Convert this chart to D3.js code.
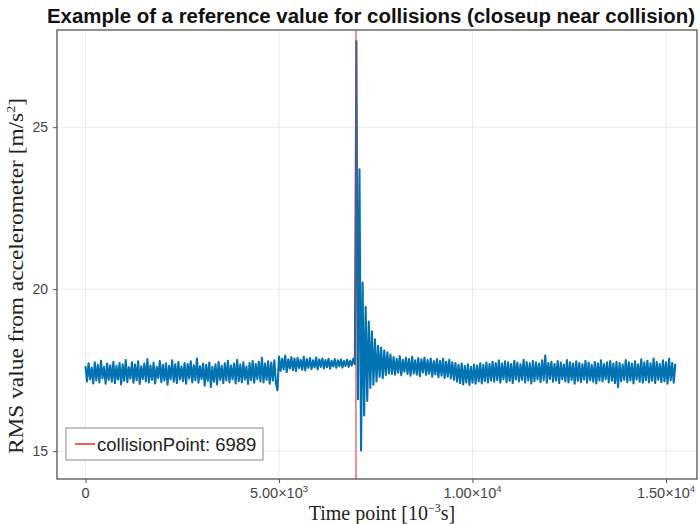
<!DOCTYPE html>
<html><head><meta charset="utf-8">
<script src="https://cdn.jsdelivr.net/npm/d3@7"></script>
<style>body{margin:0;background:#fff}svg{display:block}</style>
</head><body>
<script>
// ---- data ----
const sampleStep = 40; // time points between samples
// t = 0 .. 4960
const rmsBefore = [
17.62,17.15,17.71,17.22,17.58,17.09,17.74,17.18,17.66,17.12,
17.79,17.25,17.60,17.08,17.70,17.20,17.65,17.14,17.76,17.10,
17.63,17.21,17.72,17.06,17.68,17.17,17.81,17.13,17.59,17.24,
17.74,17.11,17.67,17.19,17.77,17.07,17.62,17.23,17.70,17.15,
17.84,17.12,17.64,17.20,17.73,17.09,17.60,17.26,17.78,17.13,
17.66,17.18,17.71,17.05,17.63,17.22,17.80,17.14,17.68,17.10,
17.75,17.21,17.61,17.16,17.72,17.08,17.69,17.24,17.77,17.12,
17.65,17.19,17.86,17.11,17.62,17.23,17.70,17.02,17.66,17.17,
17.73,16.98,17.60,17.14,17.68,17.06,17.75,17.20,17.63,17.10,
17.71,17.18,17.79,17.12,17.64,17.22,17.70,17.09,17.82,17.16,
17.67,17.13,17.74,17.21,17.61,17.07,17.72,17.19,17.78,17.11,
17.69,17.23,17.76,17.15,17.88,17.12,17.70,17.20,17.77,17.08,
17.73,17.18,17.80,17.10,16.88];
// t = 5000 .. 6960
const rmsRaised = [
17.92,17.48,17.85,17.52,17.95,17.44,17.83,17.55,17.90,17.50,
17.86,17.47,17.88,17.56,17.82,17.51,17.91,17.49,17.84,17.57,
17.87,17.53,17.80,17.58,17.89,17.52,17.83,17.60,17.86,17.55,
17.81,17.59,17.85,17.54,17.79,17.61,17.84,17.57,17.80,17.62,
17.83,17.58,17.78,17.63,17.82,17.60,17.79,17.64,17.85,17.68];
// t = 7000 .. 7920 (collision)
const rmsCollision = [
27.65,16.60,23.70,15.02,20.20,16.10,19.45,16.55,19.00,16.95,
18.70,17.05,18.45,17.15,18.25,17.30,18.20,17.25,18.10,17.35,
18.05,17.40,17.98,17.38];
// t = 7960 .. 9480
const rmsAfter = [
17.90,17.36,17.85,17.42,17.93,17.34,17.82,17.45,17.88,17.38,
17.84,17.33,17.91,17.40,17.80,17.36,17.87,17.31,17.83,17.43,
17.89,17.35,17.81,17.39,17.86,17.30,17.78,17.37,17.84,17.28,
17.79,17.33,17.85,17.26,17.76,17.30,17.82,17.24,17.74];
// t = 9520 .. 10480
const rmsDip = [
17.20,17.72,17.14,17.66,17.10,17.70,17.06,17.63,17.12,17.68,
17.04,17.60,17.11,17.67,17.08,17.64,17.15,17.71,17.09,17.66,
17.16,17.73,17.12,17.69,17.18];
// t = 10520 .. 15240
const rmsTail = [
17.76,17.14,17.72,17.19,17.80,17.11,17.70,17.22,17.77,17.13,
17.74,17.17,17.69,17.10,17.79,17.21,17.73,17.15,17.68,17.20,
17.82,17.12,17.75,17.18,17.71,17.09,17.78,17.16,17.74,17.21,
17.70,17.13,17.80,17.19,17.95,17.11,17.72,17.23,17.76,17.14,
17.69,17.18,17.78,17.10,17.73,17.22,17.67,17.15,17.81,17.12,
17.74,17.20,17.70,17.08,17.77,17.17,17.72,17.13,17.68,17.21,
17.79,17.11,17.73,17.19,17.66,17.14,17.75,17.09,17.71,17.18,
17.80,17.15,17.69,17.22,17.74,17.12,17.78,17.17,17.70,17.10,
17.76,16.97,17.72,17.16,17.67,17.20,17.81,17.13,17.74,17.18,
17.70,17.09,17.77,17.21,17.68,17.14,17.83,17.11,17.73,17.19,
17.79,17.12,17.71,17.17,17.86,17.10,17.75,17.20,17.69,17.13,
17.80,17.16,17.74,17.08,17.85,17.19,17.72,17.11,17.70];
const collisionPoint = 6989;
const xTicks = [0, 5000, 10000, 15000];
const xTickMant = ["0", "5.00", "1.00", "1.50"];
const xTickExp = [null, "3", "4", "4"];
const yTicks = [15, 20, 25];

const rms = [].concat(rmsBefore, rmsRaised, rmsCollision, rmsAfter, rmsDip, rmsTail);
const series = rms.map((v, i) => ({t: i * sampleStep, v}));

// ---- layout ----
const W = 700, H = 524;
const L = 57, R = 697, T = 30, B = 479;
const svg = d3.select("body").append("svg").attr("width", W).attr("height", H)
  .style("font-family", "'Liberation Sans', Arial, sans-serif");

const x = d3.scaleLinear().domain([-736, 15801]).range([L, R]);
const y = d3.scaleLinear().domain([14.138, 28.0]).range([B, T]);

// grid
const g = svg.append("g");
g.selectAll(".gx").data(xTicks).join("line")
  .attr("x1", d => x(d)).attr("x2", d => x(d)).attr("y1", T).attr("y2", B)
  .attr("stroke", "#ebebeb").attr("stroke-width", 1);
g.selectAll(".gy").data(yTicks).join("line")
  .attr("y1", d => y(d)).attr("y2", d => y(d)).attr("x1", L).attr("x2", R)
  .attr("stroke", "#ebebeb").attr("stroke-width", 1);

// clip
svg.append("clipPath").attr("id", "clip").append("rect")
  .attr("x", L).attr("y", T).attr("width", R - L).attr("height", B - T);

const plot = svg.append("g").attr("clip-path", "url(#clip)");
const line = d3.line().x(d => x(d.t)).y(d => y(d.v));
plot.append("path").datum(series).attr("d", line)
  .attr("fill", "none").attr("stroke", "#0072B2").attr("stroke-width", 2.1)
  .attr("stroke-linejoin", "round");
plot.append("line")
  .attr("x1", x(collisionPoint)).attr("x2", x(collisionPoint)).attr("y1", T).attr("y2", B)
  .attr("stroke", "#e8292b").attr("stroke-width", 1.2).attr("opacity", 0.85);

// axes
const xAxis = svg.append("g").attr("transform", `translate(0,${B})`)
  .call(d3.axisBottom(x).tickValues(xTicks).tickSize(4).tickFormat(""));
const yAxis = svg.append("g").attr("transform", `translate(${L},0)`)
  .call(d3.axisLeft(y).tickValues(yTicks).tickSize(4).tickFormat(""));
[xAxis, yAxis].forEach(a => {
  a.select(".domain").remove();
  a.selectAll(".tick line").attr("stroke", "#555");
});

// x tick labels
xTicks.forEach((d, i) => {
  const t = svg.append("text").attr("x", x(d)).attr("y", B + 19)
    .attr("text-anchor", "middle").attr("font-size", 14.5).attr("fill", "#444");
  if (xTickExp[i] === null) { t.text(xTickMant[i]); }
  else {
    t.append("tspan").text(xTickMant[i] + "×10");
    t.append("tspan").attr("font-size", 9.5).attr("dy", -6).text(xTickExp[i]);
  }
});
// y tick labels
svg.selectAll(".ylab").data(yTicks).join("text")
  .attr("x", L - 9).attr("y", d => y(d) + 5).attr("text-anchor", "end")
  .attr("font-size", 14).attr("fill", "#444").text(d => d);

// frame
svg.append("rect").attr("x", L).attr("y", T).attr("width", R - L).attr("height", B - T)
  .attr("fill", "none").attr("stroke", "#555").attr("stroke-width", 1.3);

// title
svg.append("text").attr("x", 371).attr("y", 23).attr("text-anchor", "middle")
  .attr("font-size", 20).attr("font-weight", "bold").attr("fill", "#111")
  .attr("textLength", 648).attr("lengthAdjust", "spacingAndGlyphs")
  .text("Example of a reference value for collisions (closeup near collision)");

// axis titles
const xt = svg.append("text").attr("x", 382).attr("y", 520).attr("text-anchor", "middle")
  .style("font-family", "'Liberation Serif', 'DejaVu Serif', serif").attr("font-size", 20).attr("fill", "#222");
xt.append("tspan").text("Time point [10");
xt.append("tspan").attr("font-size", 12).attr("dy", -8).text("−3");
xt.append("tspan").attr("dy", 8).text("s]");

const yt = svg.append("text").attr("transform", "translate(23,276) rotate(-90)")
  .attr("text-anchor", "middle")
  .style("font-family", "'Liberation Serif', 'DejaVu Serif', serif").attr("font-size", 20).attr("fill", "#222")
  .attr("textLength", 356).attr("lengthAdjust", "spacingAndGlyphs");
yt.append("tspan").text("RMS value from accelerometer [m/s");
yt.append("tspan").attr("font-size", 12).attr("dy", -8).text("2");
yt.append("tspan").attr("dy", 8).text("]");

// legend
const lg = svg.append("g");
lg.append("rect").attr("x", 66).attr("y", 428).attr("width", 197).attr("height", 32)
  .attr("fill", "#fff").attr("stroke", "#888").attr("stroke-width", 1);
lg.append("line").attr("x1", 75).attr("x2", 95).attr("y1", 444).attr("y2", 444)
  .attr("stroke", "#e8292b").attr("stroke-width", 1.5);
lg.append("text").attr("x", 97).attr("y", 450.5).attr("font-size", 18.5).attr("fill", "#222")
  .text("collisionPoint: " + collisionPoint);
</script>
</body></html>
